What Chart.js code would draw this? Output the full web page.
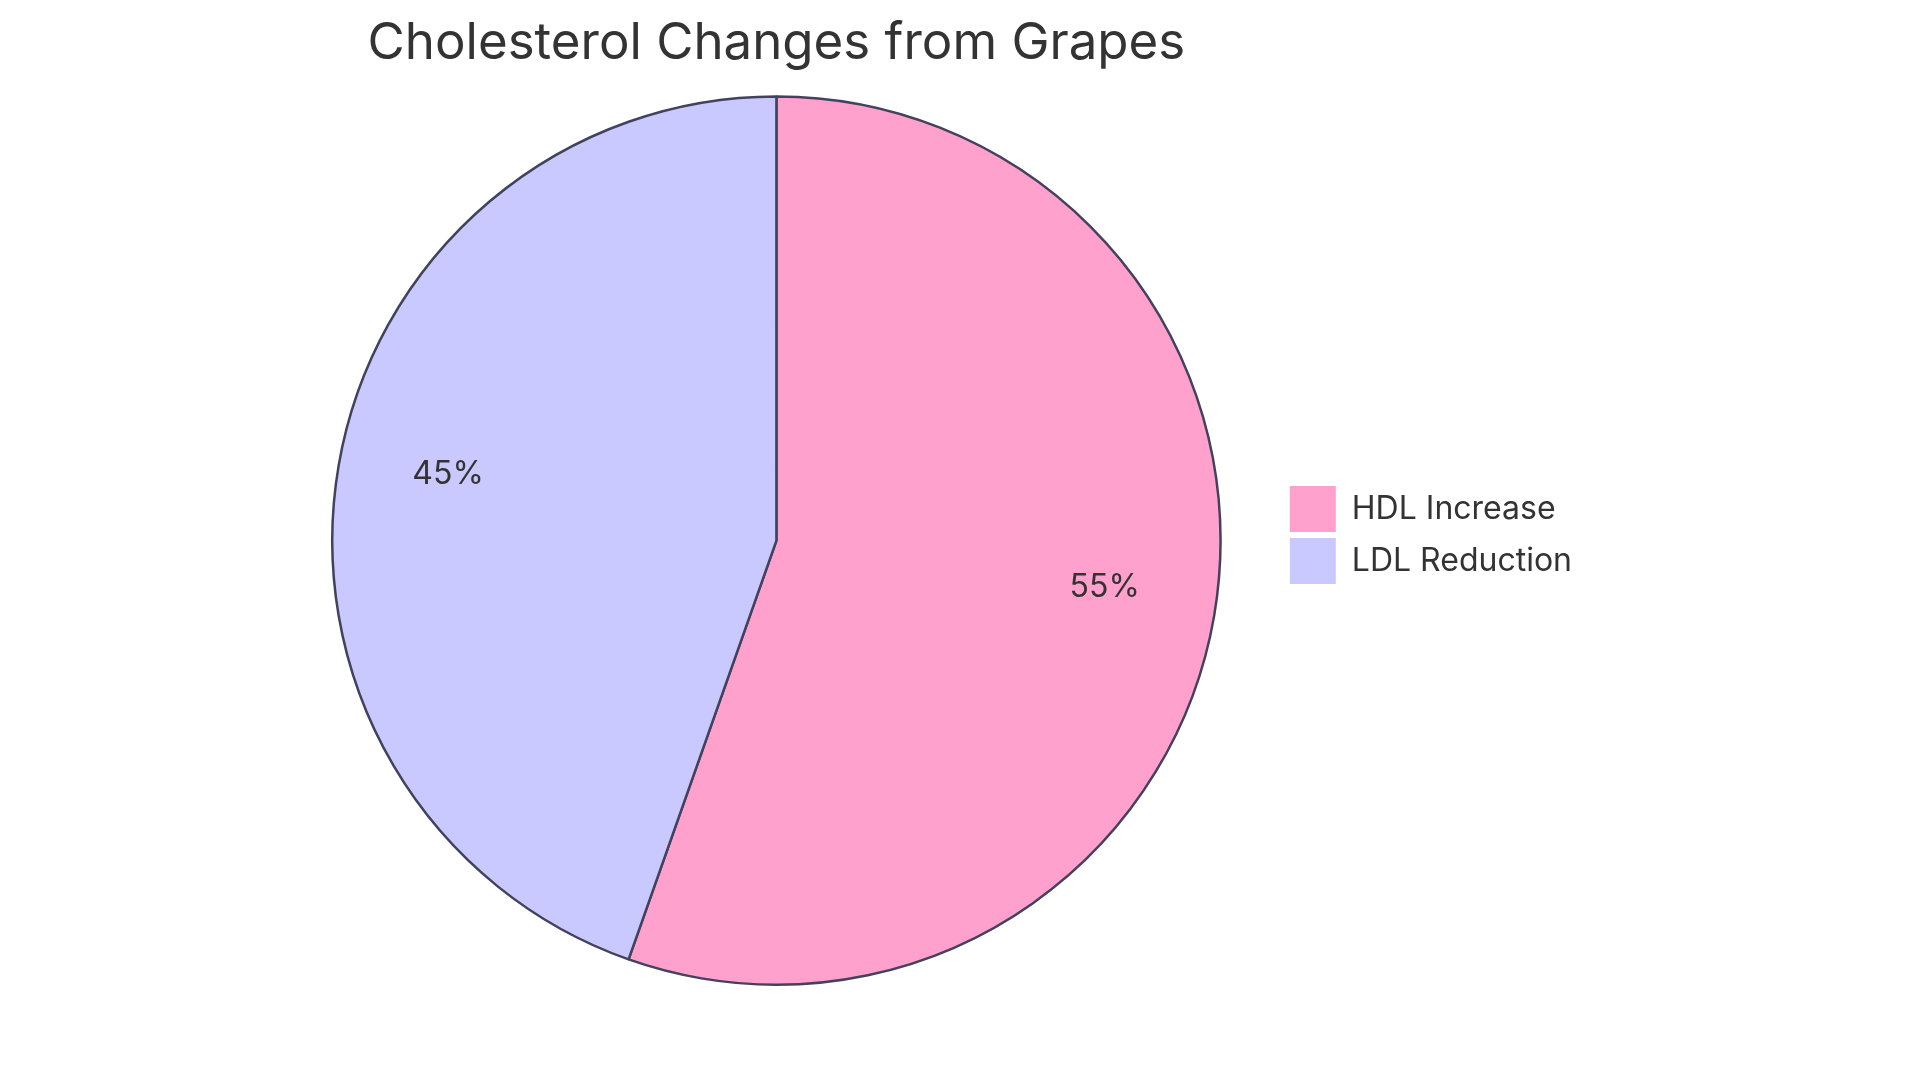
<!DOCTYPE html>
<html>
<head>
<meta charset="utf-8">
<title>Cholesterol Changes from Grapes</title>
<script src="https://cdn.jsdelivr.net/npm/chart.js@4"></script>
<style>
  html, body { margin: 0; padding: 0; background: #fff; }
  #wrap { width: 1920px; height: 1083px; }
</style>
</head>
<body>
<div id="wrap"><canvas id="pieChart" width="1920" height="1083"></canvas></div>
<script>
const labels = ["HDL Increase", "LDL Reduction"];
const values = [55.4, 44.6];
const colors = ["#FFA1CC", "#C9C9FF"];

const ctx = document.getElementById("pieChart");

// percent labels, baseline sitting on the arc centroid (75% of radius)
const sliceLabels = {
  id: "sliceLabels",
  afterDatasetsDraw(chart) {
    const c = chart.ctx;
    const meta = chart.getDatasetMeta(0);
    const total = values.reduce((a, b) => a + b, 0);
    c.save();
    c.font = "32px Inter";
    c.fillStyle = "#333333";
    c.textAlign = "center";
    c.textBaseline = "alphabetic";
    meta.data.forEach((arc, i) => {
      const p = arc.getProps(["x", "y", "startAngle", "endAngle", "outerRadius"], true);
      const mid = (p.startAngle + p.endAngle) / 2;
      const r = p.outerRadius * 0.75;
      const pct = Math.round((values[i] / total) * 100) + "%";
      c.fillText(pct, p.x + Math.cos(mid) * r, p.y + Math.sin(mid) * r);
    });
    c.restore();
  },
};

// legend squares without outline
const baseLabels = Chart.overrides.doughnut.plugins.legend.labels.generateLabels;

new Chart(ctx, {
  type: "pie",
  data: {
    labels: labels,
    datasets: [
      {
        data: values,
        backgroundColor: colors,
        borderColor: "#42425E",
        borderWidth: 2.5,
      },
    ],
  },
  options: {
    responsive: false,
    animation: false,
    devicePixelRatio: 1,
    layout: {
      padding: { left: 269, right: 338, top: 0, bottom: 97 },
    },
    plugins: {
      title: {
        display: true,
        text: "Cholesterol Changes from Grapes",
        fullSize: false,
        color: "#333333",
        font: { family: "Inter", size: 51, weight: "normal" },
        padding: { top: 13, bottom: 21 },
      },
      legend: {
        position: "right",
        title: {
          display: true,
          text: "",
          font: { size: 10 },
          padding: { top: 0, bottom: 72 },
        },
        labels: {
          boxWidth: 46,
          boxHeight: 46,
          padding: 6,
          color: "#333333",
          font: { family: "Inter", size: 32 },
          generateLabels(chart) {
            return baseLabels(chart).map((item) => {
              item.lineWidth = 0;
              item.strokeStyle = "rgba(0,0,0,0)";
              return item;
            });
          },
        },
      },
      tooltip: { enabled: false },
    },
  },
  plugins: [sliceLabels],
});
</script>
</body>
</html>
